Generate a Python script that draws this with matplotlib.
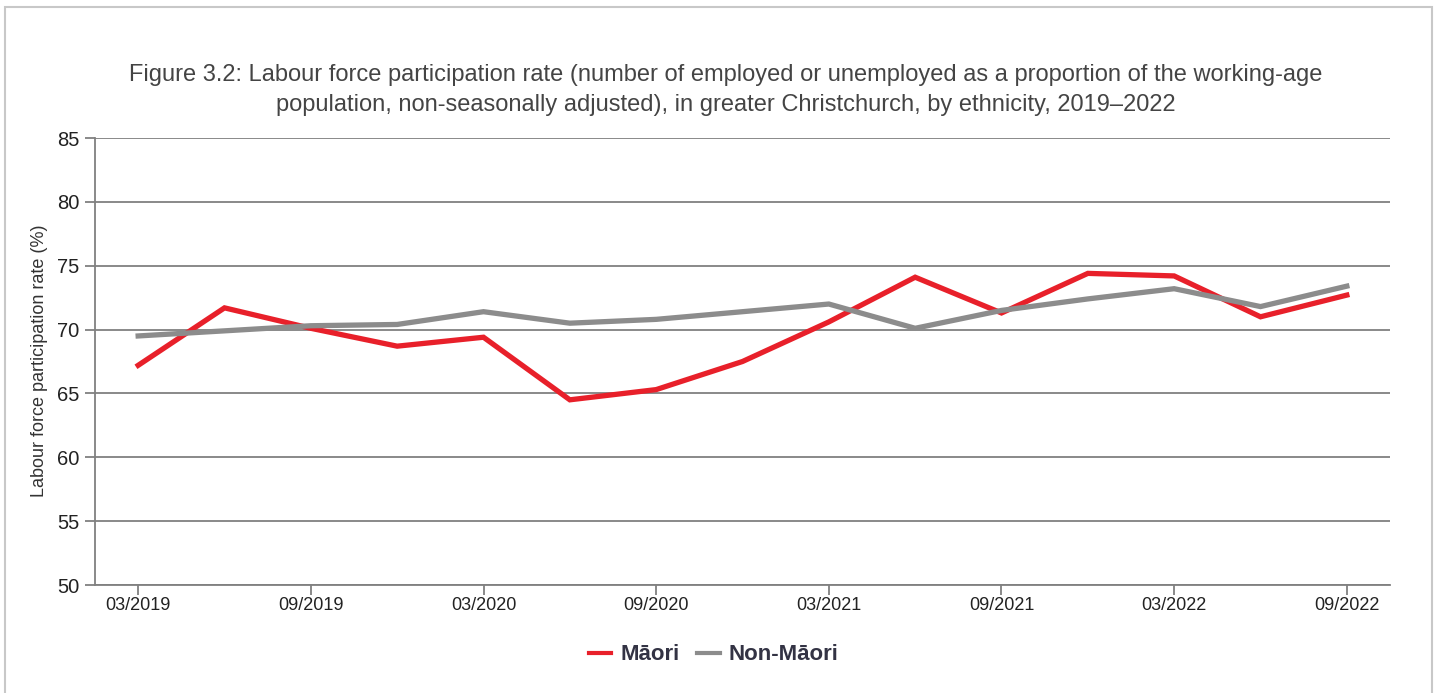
import matplotlib
matplotlib.use("Agg")
import matplotlib.pyplot as plt
from matplotlib.patches import Rectangle

quarters = ["03/2019", "06/2019", "09/2019", "12/2019", "03/2020", "06/2020", "09/2020",
            "12/2020", "03/2021", "06/2021", "09/2021", "12/2021", "03/2022", "06/2022", "09/2022"]
maori = [67.2, 71.7, 70.1, 68.7, 69.4, 64.5, 65.3, 67.5, 70.6, 74.1, 71.3, 74.4, 74.2, 71.0, 72.7]
non_maori = [69.5, 69.9, 70.3, 70.4, 71.4, 70.5, 70.8, 71.4, 72.0, 70.1, 71.5, 72.4, 73.2, 71.8, 73.4]
yticks = [50, 55, 60, 65, 70, 75, 80, 85]

plt.rcParams['font.family'] = ['Liberation Sans', 'DejaVu Sans']

fig = plt.figure(figsize=(14.42, 6.93), dpi=100)
fig.patches.append(Rectangle((5/1442, -0.01), 1427/1442, 1 - 7/693 + 0.01,
                             transform=fig.transFigure, fill=False,
                             edgecolor="#c8c8c8", linewidth=1.5))

ax = fig.add_axes([95/1442, 1 - 585/693, (1390 - 95)/1442, (585 - 138)/693])
x = list(range(len(quarters)))
ax.plot(x, maori, color="#e8202a", linewidth=3.8, label="Māori", solid_joinstyle="miter", zorder=3)
ax.plot(x, non_maori, color="#8c8c8c", linewidth=3.8, label="Non-Māori", solid_joinstyle="miter", zorder=3)

ax.set_xlim(-0.5, len(quarters) - 0.5)
ax.set_ylim(50, 85)
ax.set_yticks(yticks)
ax.set_yticklabels([str(v) for v in yticks], fontsize=14.5, color="#222222")
ax.set_xticks(x[::2])
ax.set_xticklabels(quarters[::2], fontsize=13, color="#222222")
ax.grid(axis="y", color="#808080", linewidth=1.3, zorder=1)
ax.set_axisbelow(True)
for s in ["top", "right"]:
    ax.spines[s].set_visible(False)
for s in ["left", "bottom"]:
    ax.spines[s].set_color("#808080")
    ax.spines[s].set_linewidth(1.3)
ax.tick_params(axis="y", length=7, color="#808080", width=1.3, pad=4)
ax.tick_params(axis="x", length=7, color="#808080", width=1.3, pad=2)

fig.text(40/1442, 1 - 361/693, "Labour force participation rate (%)", rotation=90,
         ha="center", va="center", fontsize=13, color="#333333")

fig.text(0.503, 1 - 75/693, "Figure 3.2: Labour force participation rate (number of employed or unemployed as a proportion of the working-age",
         ha="center", va="center", fontsize=17, color="#444444")
fig.text(0.503, 1 - 105/693, "population, non-seasonally adjusted), in greater Christchurch, by ethnicity, 2019–2022",
         ha="center", va="center", fontsize=17, color="#444444")

leg = fig.legend(loc="center", bbox_to_anchor=(0.495, 1 - 655/693), ncol=2, frameon=False,
                 prop={"weight": "bold", "size": 16}, handlelength=1.0, handletextpad=0.4,
                 columnspacing=0.8)
for t in leg.get_texts():
    t.set_color("#333344")
for h in leg.get_lines():
    h.set_linewidth(3)

fig.savefig("out.png", dpi=100)
